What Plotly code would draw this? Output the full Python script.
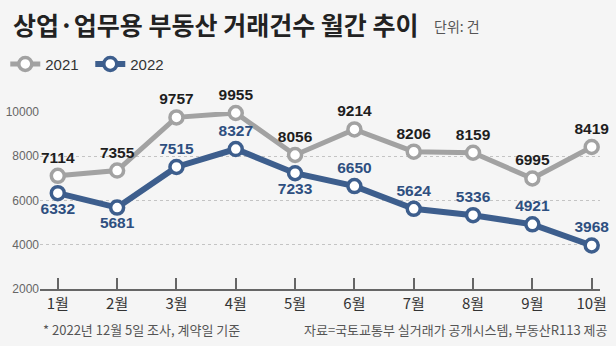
import plotly.graph_objects as go

months = ["1월", "2월", "3월", "4월", "5월", "6월", "7월", "8월", "9월", "10월"]
y2021 = [7114, 7355, 9757, 9955, 8056, 9214, 8206, 8159, 6995, 8419]
y2022 = [6332, 5681, 7515, 8327, 7233, 6650, 5624, 5336, 4921, 3968]
pos2022 = ["bottom center", "bottom center", "top center", "top center", "bottom center",
           "top center", "top center", "top center", "top center", "top center"]
yticks = [2000, 4000, 6000, 8000, 10000]

NUM = "Liberation Sans, Arial, sans-serif"
KR = "Noto Sans CJK KR, sans-serif"
GRAY = "#a2a2a2"
BLUE = "#3d5e8d"

fig = go.Figure()
fig.add_trace(go.Scatter(
    x=months, y=y2021, name="2021", mode="lines+markers+text",
    line=dict(color=GRAY, width=5),
    marker=dict(size=13, color="white", line=dict(color=GRAY, width=3.5)),
    text=[str(v) for v in y2021], textposition="top center",
    textfont=dict(family=NUM, size=15.5, color="#1e1e1e", weight="bold"),
    cliponaxis=False,
))
fig.add_trace(go.Scatter(
    x=months, y=y2022, name="2022", mode="lines+markers+text",
    line=dict(color=BLUE, width=6),
    marker=dict(size=13, color="white", line=dict(color=BLUE, width=3.5)),
    text=[str(v) for v in y2022], textposition=pos2022,
    textfont=dict(family=NUM, size=15.5, color="#2e4f80", weight="bold"),
    cliponaxis=False,
))

fig.update_layout(
    width=616, height=346,
    margin=dict(l=40, r=16, t=112, b=57, autoexpand=False),
    paper_bgcolor="#f5f5f5", plot_bgcolor="#f5f5f5",
    showlegend=True,
    legend=dict(orientation="h", x=-0.062, xanchor="left", y=1.27, yanchor="middle",
                font=dict(family=NUM, size=15, color="#333"), itemwidth=30,
                entrywidth=40, entrywidthmode="pixels",
                bgcolor="rgba(0,0,0,0)", tracegroupgap=0),
    xaxis=dict(type="category", range=[-0.3, 9.14], showgrid=False,
               showline=True, linecolor="#666", linewidth=1.5,
               ticks="inside", ticklen=11, tickcolor="#666", tickwidth=1.5,
               tickfont=dict(family=KR, size=15, color="#333")),
    yaxis=dict(range=[2000, 10000], tickvals=yticks, tickformat="d", showgrid=True,
               gridcolor="#c4c4c4", griddash="dot", gridwidth=1, zeroline=False,
               tickfont=dict(family=NUM, size=12, color="#666"), ticks=""),
    annotations=[
        dict(text="<b>상업·업무용 부동산 거래건수 월간 추이</b>", xref="paper", yref="paper",
             x=-0.052, y=1.5, xanchor="left", yanchor="middle", showarrow=False,
             font=dict(family=KR, size=25, color="#222")),
        dict(text="단위: 건", xref="paper", yref="paper",
             x=0.7, y=1.485, xanchor="left", yanchor="middle", showarrow=False,
             font=dict(family=KR, size=14, color="#555")),
        dict(text="* 2022년 12월 5일 조사, 계약일 기준", xref="paper", yref="paper",
             x=0.002, y=-0.226, xanchor="left", yanchor="middle", showarrow=False,
             font=dict(family=KR, size=13, color="#555")),
        dict(text="자료=국토교통부 실거래가 공개시스템, 부동산R113 제공", xref="paper", yref="paper",
             x=1.018, y=-0.226, xanchor="right", yanchor="middle", showarrow=False,
             font=dict(family=KR, size=13, color="#555")),
    ],
)

fig.write_html("out.html")
